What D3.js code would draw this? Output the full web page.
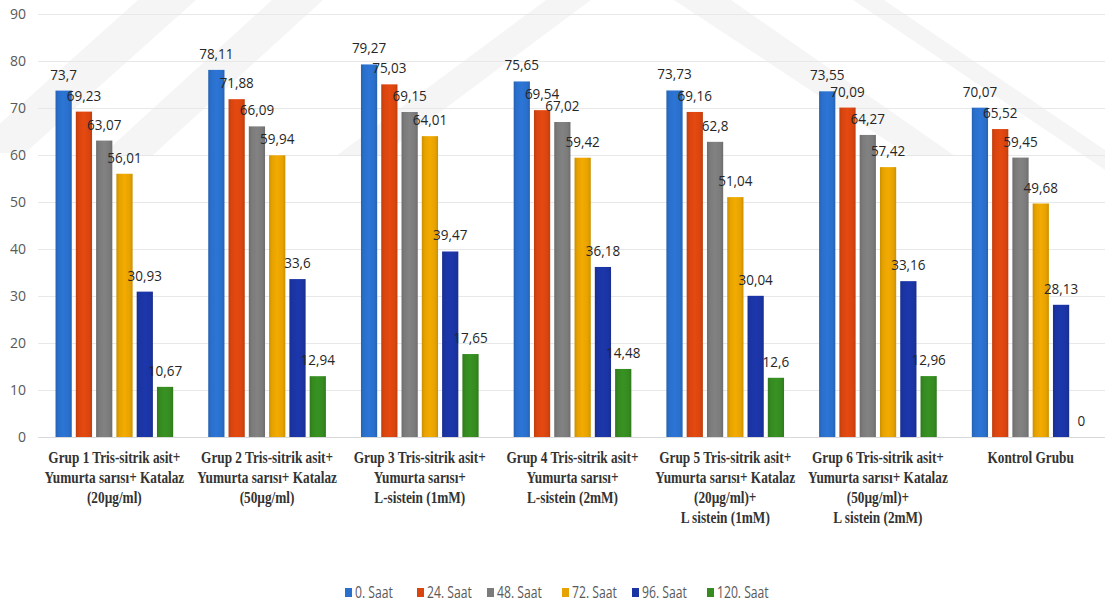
<!DOCTYPE html>
<html>
<head>
<meta charset="utf-8">
<script src="https://cdn.jsdelivr.net/npm/d3@7"></script>
<style>
  html, body { margin: 0; padding: 0; background: #fff; }
  svg { display: block; }
</style>
</head>
<body>
<svg id="chart" width="1105" height="607"></svg>
<script>
// Group labels (multi-line) for the x axis
const categories = [
  ["Grup 1 Tris-sitrik asit+", "Yumurta sarısı+ Katalaz", "(20µg/ml)"],
  ["Grup 2 Tris-sitrik asit+", "Yumurta sarısı+ Katalaz", "(50µg/ml)"],
  ["Grup 3 Tris-sitrik asit+", "Yumurta sarısı+", "L-sistein (1mM)"],
  ["Grup 4 Tris-sitrik asit+", "Yumurta sarısı+", "L-sistein (2mM)"],
  ["Grup 5 Tris-sitrik asit+", "Yumurta sarısı+ Katalaz", "(20µg/ml)+", "L sistein (1mM)"],
  ["Grup 6 Tris-sitrik asit+", "Yumurta sarısı+ Katalaz", "(50µg/ml)+", "L sistein (2mM)"],
  ["Kontrol Grubu"]
];

const seriesNames = ["0. Saat", "24. Saat", "48. Saat", "72. Saat", "96. Saat", "120. Saat"];

const saat0   = [73.7, 78.11, 79.27, 75.65, 73.73, 73.55, 70.07];
const saat24  = [69.23, 71.88, 75.03, 69.54, 69.16, 70.09, 65.52];
const saat48  = [63.07, 66.09, 69.15, 67.02, 62.8, 64.27, 59.45];
const saat72  = [56.01, 59.94, 64.01, 59.42, 51.04, 57.42, 49.68];
const saat96  = [30.93, 33.6, 39.47, 36.18, 30.04, 33.16, 28.13];
const saat120 = [10.67, 12.94, 17.65, 14.48, 12.6, 12.96, 0];

const yTicks = [0, 10, 20, 30, 40, 50, 60, 70, 80, 90];

const colors = ["#2A6FCB", "#D9450F", "#7B7B7B", "#E6A200", "#1B34A3", "#358A20"];

const seriesValues = [saat0, saat24, saat48, saat72, saat96, saat120];

const svg = d3.select("#chart");
const plot = { left: 38, right: 1107, top: 14, bottom: 437 };

const x0 = d3.scaleBand()
  .domain(d3.range(categories.length))
  .range([plot.left, plot.right])
  .paddingInner(0)
  .paddingOuter(0);

const x1 = d3.scaleBand()
  .domain(d3.range(seriesNames.length))
  .range([15.5, x0.bandwidth() - 15.5])
  .paddingInner(0.2)
  .paddingOuter(0.1);

const y = d3.scaleLinear().domain([0, 90]).range([plot.bottom, plot.top]);

// Bar shading gradients
const defs = svg.append("defs");
colors.forEach((c, i) => {
  const g = defs.append("linearGradient")
    .attr("id", "grad" + i)
    .attr("x1", "0%").attr("x2", "100%").attr("y1", "0%").attr("y2", "0%");
  const dark = d3.color(c).darker(0.35).formatHex();
  const light = d3.color(c).brighter(0.15).formatHex();
  g.append("stop").attr("offset", "0%").attr("stop-color", dark);
  g.append("stop").attr("offset", "18%").attr("stop-color", c);
  g.append("stop").attr("offset", "50%").attr("stop-color", light);
  g.append("stop").attr("offset", "82%").attr("stop-color", c);
  g.append("stop").attr("offset", "100%").attr("stop-color", dark);
});

// Faint diagonal bands behind the plot
const bands = [
  [[138, 0], [196, 0], [25, 153], [-33, 153]],
  [[272, 0], [323, 0], [152, 156], [101, 156]],
  [[546, 0], [591, 0], [381, 156], [336, 156]],
  [[674, 0], [731, 0], [955, 156], [910, 156]],
  [[853, 0], [884, 0], [1105, 150], [1105, 170]]
];
svg.append("g")
  .selectAll("path")
  .data(bands)
  .join("path")
  .attr("d", d => d3.line()(d) + "Z")
  .attr("fill", "#f5f5f5");

// Gridlines
svg.append("g")
  .selectAll("line")
  .data(yTicks)
  .join("line")
  .attr("x1", plot.left)
  .attr("x2", plot.right)
  .attr("y1", d => Math.round(y(d)) + 0.5)
  .attr("y2", d => Math.round(y(d)) + 0.5)
  .attr("stroke", d => d === 0 ? "#d9d9d9" : "#e8e8e8")
  .attr("stroke-width", 1);

// Y axis labels
const yAxis = d3.axisLeft(y).tickValues(yTicks).tickSize(0).tickPadding(12);
svg.append("g")
  .attr("transform", `translate(${plot.left},0)`)
  .call(yAxis)
  .call(g => g.select(".domain").remove())
  .call(g => g.selectAll("text")
    .attr("fill", "#595959")
    .attr("font-family", "'Open Sans', sans-serif")
    .attr("font-size", "14px"));

// Bars
const groups = svg.append("g")
  .selectAll("g")
  .data(categories.map((c, i) => i))
  .join("g")
  .attr("transform", i => `translate(${x0(i)},0)`);

groups.selectAll("rect")
  .data(i => seriesValues.map((vals, s) => ({ s, v: vals[i] })))
  .join("rect")
  .attr("x", d => x1(d.s))
  .attr("width", x1.bandwidth())
  .attr("y", d => y(d.v))
  .attr("height", d => y(0) - y(d.v))
  .attr("fill", d => `url(#grad${d.s})`);

// Value labels (slightly condensed)
groups.selectAll("g.val")
  .data(i => seriesValues.map((vals, s) => ({ s, v: vals[i] })))
  .join("g")
  .attr("class", "val")
  .attr("transform", d => `translate(${x1(d.s) + x1.bandwidth() / 2},${y(d.v) - 11}) scale(0.9,1)`)
  .append("text")
  .attr("text-anchor", "middle")
  .attr("fill", "#262626")
  .attr("font-family", "'Open Sans', sans-serif")
  .attr("font-size", "15px")
  .text(d => String(d.v).replace(".", ","));

// X axis category labels
const xl = svg.append("g");
categories.forEach((lines, i) => {
  const cx = x0(i) + x0.bandwidth() / 2;
  const t = xl.append("g")
    .attr("transform", `translate(${cx},0) scale(0.83,1)`)
    .append("text")
    .attr("text-anchor", "middle")
    .attr("fill", "#333333")
    .attr("font-family", "'Liberation Serif', 'Times New Roman', serif")
    .attr("font-weight", "bold")
    .attr("font-size", "16px");
  lines.forEach((ln, k) => {
    t.append("tspan")
      .attr("x", 0)
      .attr("y", 463 + k * 20)
      .text(ln);
  });
});

// Legend
const legendX = [345, 417, 487, 562, 632, 707];
const legend = svg.append("g");
seriesNames.forEach((name, i) => {
  const g = legend.append("g").attr("transform", `translate(${legendX[i]},598)`);
  g.append("rect").attr("x", 0).attr("y", -10).attr("width", 7).attr("height", 9).attr("fill", colors[i]);
  g.append("g")
    .attr("transform", "translate(10,0) scale(0.76,1)")
    .append("text")
    .attr("fill", "#595959")
    .attr("font-family", "'Open Sans', sans-serif")
    .attr("font-size", "16px")
    .text(name);
});
</script>
</body>
</html>
